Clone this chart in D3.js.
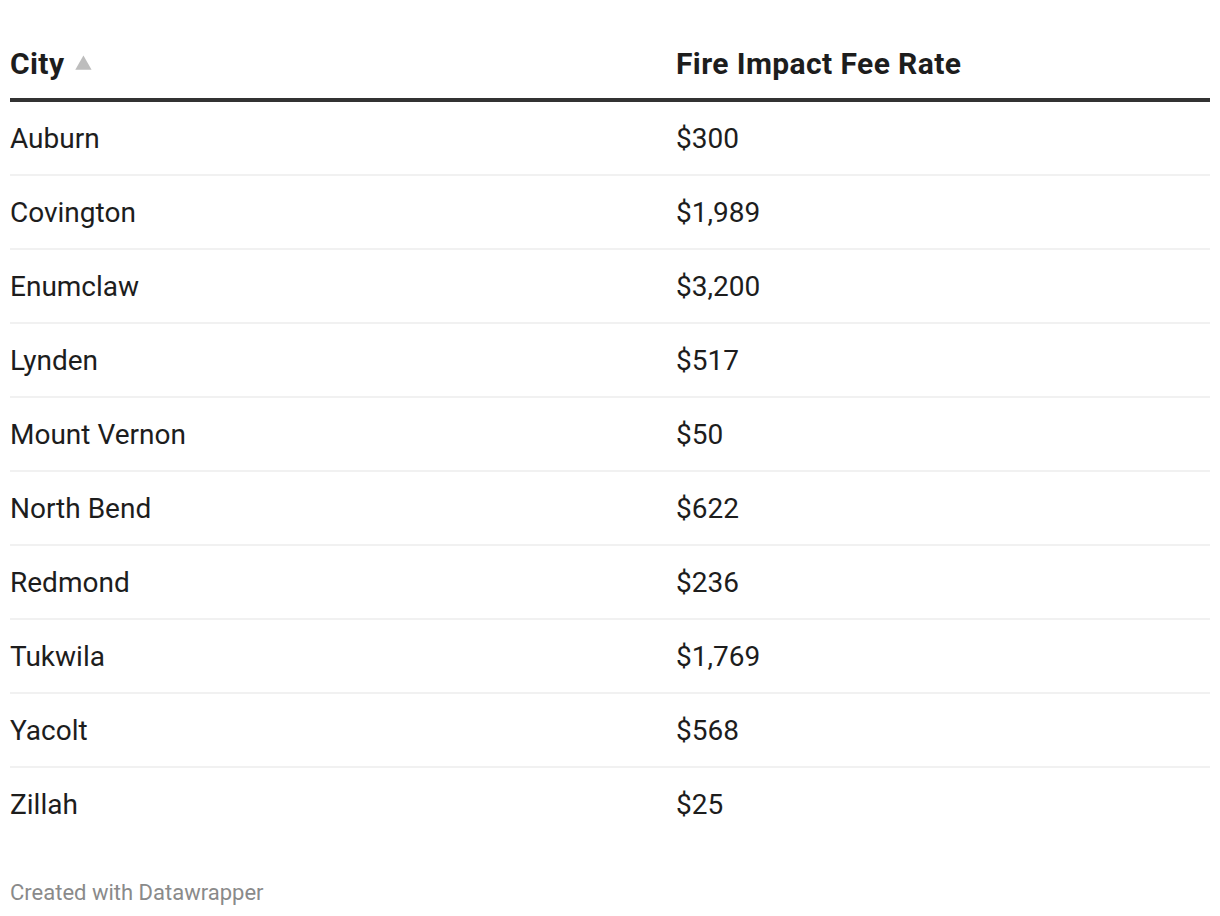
<!DOCTYPE html>
<html><head><meta charset="utf-8">
<script src="https://cdn.jsdelivr.net/npm/d3@7"></script>
<style>
html,body{margin:0;padding:0;background:#fff;}
svg text{font-family:Roboto,"Noto Sans",sans-serif;}
</style></head>
<body>
<svg id="chart" width="1220" height="916"></svg>
<script>
const columns = ["City", "Fire Impact Fee Rate"];
const cities = ["Auburn","Covington","Enumclaw","Lynden","Mount Vernon","North Bend","Redmond","Tukwila","Yacolt","Zillah"];
const feeRates = [300,1989,3200,517,50,622,236,1769,568,25];
const footer = "Created with Datawrapper";

const svg = d3.select("#chart");
const left = 10, right = 1210, headerLineY = 100, rowH = 74;
const x = d3.scaleOrdinal().domain(columns).range([left, 676]);
const y = d3.scaleBand().domain(cities).range([headerLineY + 1.5, headerLineY + 1.5 + rowH * cities.length]).padding(0);
const fmt = v => "$" + d3.format(",")(v);

// header
svg.selectAll("text.head").data(columns).join("text")
  .attr("class","head")
  .attr("x", d => x(d)).attr("y", 74)
  .attr("font-size", 30).attr("font-weight", 700).attr("fill", "#1d1d1d")
  .attr("letter-spacing", 0.4)
  .text(d => d);

// sort triangle
const cityW = svg.select("text.head").node().getComputedTextLength();
svg.append("path")
  .attr("d", d3.symbol().type(d3.symbolTriangle).size(115)())
  .attr("transform", `translate(${left + cityW + 19},${65})`)
  .attr("fill", "#bdbdbd");

svg.append("line").attr("x1", left).attr("x2", right)
  .attr("y1", headerLineY).attr("y2", headerLineY)
  .attr("stroke", "#333").attr("stroke-width", 4);

const rows = svg.selectAll("g.row").data(cities).join("g").attr("class","row")
  .attr("transform", d => `translate(0,${y(d)})`);

rows.filter((d,i) => i < cities.length - 1).append("line")
  .attr("x1", left).attr("x2", right)
  .attr("y1", y.bandwidth() - 0.5).attr("y2", y.bandwidth() - 0.5)
  .attr("stroke", "#ececec").attr("stroke-width", 1.5);

rows.append("text").attr("x", x(columns[0])).attr("y", y.bandwidth()/2 + 9)
  .attr("font-size", 28).attr("fill", "#1d1d1d").text(d => d);
rows.append("text").attr("x", x(columns[1])).attr("y", y.bandwidth()/2 + 9)
  .attr("font-size", 28).attr("fill", "#1d1d1d").text((d,i) => fmt(feeRates[i]));

svg.append("text").attr("x", left).attr("y", 900)
  .attr("font-size", 22).attr("fill", "#8a8a8a").text(footer);
</script>
</body></html>
